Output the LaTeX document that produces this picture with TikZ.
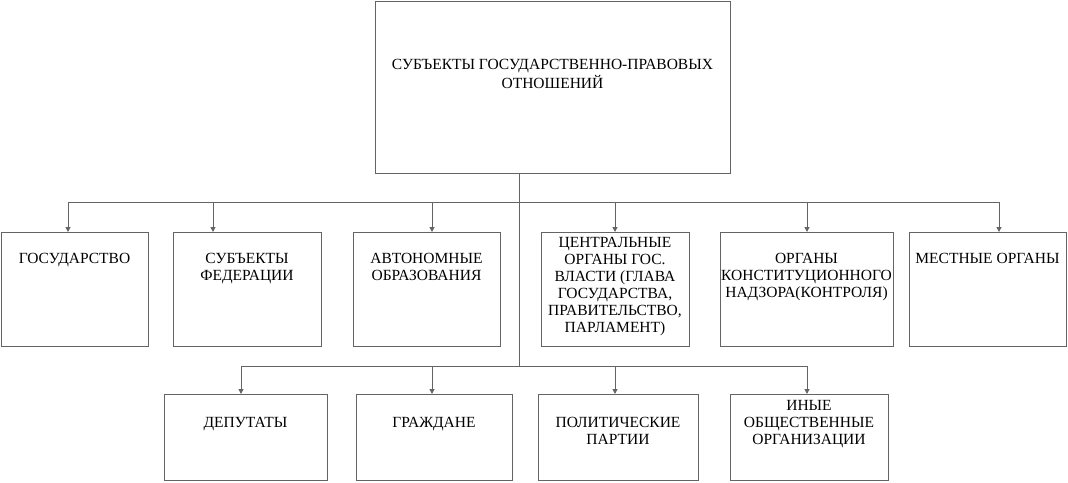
\documentclass[tikz,border=0pt]{standalone}
\usepackage{fontspec}
\setmainfont{Liberation Serif}
\usetikzlibrary{arrows.meta,calc}
\definecolor{ln}{RGB}{100,100,100}
\begin{document}
\begin{tikzpicture}[x=1pt,y=-1pt,
 box/.style={draw=ln, line width=1pt, rectangle, inner sep=0pt, outer sep=0pt},
 lbl/.style={font=\fontsize{15.5}{17}\selectfont, align=center, inner sep=0pt, anchor=north},
 conn/.style={draw=ln, line width=1pt},
 arr/.style={conn, -{Triangle[length=5pt,width=5pt]}}]
\useasboundingbox (0,0) rectangle (1068,482);

% boxes
\node[box, minimum width=355pt, minimum height=172pt] (top) at (552.5,87) {};
\node[box, minimum width=147pt, minimum height=114pt] (b1) at (74.5,289) {};
\node[box, minimum width=148pt, minimum height=114pt] (b2) at (247,289) {};
\node[box, minimum width=147pt, minimum height=114pt] (b3) at (426.5,289) {};
\node[box, minimum width=148pt, minimum height=114pt] (b4) at (615,289) {};
\node[box, minimum width=173pt, minimum height=114pt] (b5) at (806.5,289) {};
\node[box, minimum width=157pt, minimum height=114pt] (b6) at (987.5,289) {};
\node[box, minimum width=163pt, minimum height=86pt] (b7) at (245.5,437) {};
\node[box, minimum width=156pt, minimum height=86pt] (b8) at (434,437) {};
\node[box, minimum width=160pt, minimum height=86pt] (b9) at (618,437) {};
\node[box, minimum width=158pt, minimum height=86pt] (b10) at (809,437) {};

% labels
\node[lbl, font=\fontsize{15.5}{19}\selectfont] (ttop) at ($(top.north)+(0,58)$) {СУБЪЕКТЫ ГОСУДАРСТВЕННО-ПРАВОВЫХ\\ОТНОШЕНИЙ};
\node[lbl] (t1) at ($(b1.north)+(0,21.5)$) {ГОСУДАРСТВО};
\node[lbl] (t2) at ($(b2.north)+(0,21.5)$) {СУБЪЕКТЫ\\ФЕДЕРАЦИИ};
\node[lbl] (t3) at ($(b3.north)+(0,21.5)$) {АВТОНОМНЫЕ\\ОБРАЗОВАНИЯ};
\node[lbl] (t4) at ($(b4.north)+(0,5)$) {ЦЕНТРАЛЬНЫЕ\\ОРГАНЫ ГОС.\\ВЛАСТИ (ГЛАВА\\ГОСУДАРСТВА,\\ПРАВИТЕЛЬСТВО,\\ПАРЛАМЕНТ)};
\node[lbl] (t5) at ($(b5.north)+(0,21)$) {ОРГАНЫ\\КОНСТИТУЦИОННОГО\\НАДЗОРА(КОНТРОЛЯ)};
\node[lbl] (t6) at ($(b6.north)+(0,21.5)$) {МЕСТНЫЕ ОРГАНЫ};
\node[lbl] (t7) at ($(b7.north)+(0,23)$) {ДЕПУТАТЫ};
\node[lbl] (t8) at ($(b8.north)+(0,23)$) {ГРАЖДАНЕ};
\node[lbl] (t9) at ($(b9.north)+(0,23)$) {ПОЛИТИЧЕСКИЕ\\ПАРТИИ};
\node[lbl] (t10) at ($(b10.north)+(0,6)$) {ИНЫЕ\\ОБЩЕСТВЕННЫЕ\\ОРГАНИЗАЦИИ};

% connector points
\coordinate (j1) at (519,202);
\coordinate (j2) at (519,366);
\coordinate (a1) at ([xshift=-6.5pt]b1.north);
\coordinate (a2) at ([xshift=-34pt]b2.north);
\coordinate (a3) at ([xshift=5.5pt]b3.north);
\coordinate (a4) at (b4.north);
\coordinate (a5) at ([xshift=0.5pt]b5.north);
\coordinate (a6) at ([xshift=11.5pt]b6.north);
\coordinate (a7) at ([xshift=-4.5pt]b7.north);
\coordinate (a8) at ([xshift=-2pt]b8.north);
\coordinate (a9) at ([xshift=-3pt]b9.north);
\coordinate (a10) at ([xshift=-2pt]b10.north);

\draw[conn] (top.south -| j1) -- (j2);
\draw[conn] (j1 -| a1) -- (j1 -| a6);
\draw[conn] (j2 -| a7) -- (j2 -| a10);
\foreach \i in {1,...,6} { \draw[arr] (j1 -| a\i) -- (a\i); }
\foreach \i in {7,...,10} { \draw[arr] (j2 -| a\i) -- (a\i); }
\end{tikzpicture}
\end{document}
